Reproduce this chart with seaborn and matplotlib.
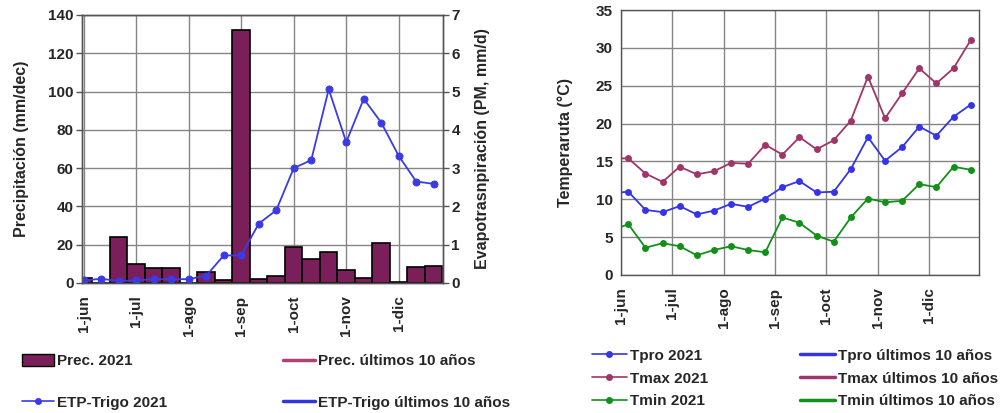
import numpy as np
import pandas as pd
import matplotlib
matplotlib.use("Agg")
import matplotlib.pyplot as plt
from matplotlib.patches import Patch
from matplotlib.lines import Line2D
import seaborn as sns

# dekads (10-day periods), jun-1 .. dic-3
dekads = ["jun-1", "jun-2", "jun-3", "jul-1", "jul-2", "jul-3", "ago-1", "ago-2", "ago-3",
          "sep-1", "sep-2", "sep-3", "oct-1", "oct-2", "oct-3", "nov-1", "nov-2", "nov-3",
          "dic-1", "dic-2", "dic-3"]
month_labels = ["1-jun", "1-jul", "1-ago", "1-sep", "1-oct", "1-nov", "1-dic"]

# precipitation 2021 (mm/dec) and ETP trigo 2021 (mm/d)
prec_2021 = [2.6, 0.0, 23.9, 10.1, 7.7, 7.7, 0.0, 5.7, 1.7, 132.4, 2.1, 3.8, 18.6, 12.7,
             16.2, 6.6, 2.6, 21.1, 0.5, 8.5, 8.9]
etp_2021 = [0.07, 0.11, 0.05, 0.07, 0.10, 0.10, 0.10, 0.19, 0.72, 0.72, 1.55, 1.90, 3.00,
            3.21, 5.06, 3.68, 4.81, 4.19, 3.32, 2.65, 2.59]

# temperatures 2021 (first value = last dekad of may, out of view)
temp_dekads = ["may-3"] + dekads
tpro_2021 = [10.8, 11.0, 8.6, 8.3, 9.1, 8.0, 8.5, 9.4, 9.0, 10.1, 11.6, 12.4, 10.9, 11.0,
             14.0, 18.2, 15.1, 16.9, 19.6, 18.4, 20.9, 22.5]
tmax_2021 = [15.4, 15.4, 13.4, 12.3, 14.3, 13.3, 13.7, 14.8, 14.7, 17.2, 15.9, 18.2, 16.6,
             17.8, 20.4, 26.2, 20.7, 24.0, 27.3, 25.3, 27.3, 31.0]
tmin_2021 = [5.9, 6.7, 3.6, 4.2, 3.8, 2.6, 3.3, 3.8, 3.3, 3.0, 7.6, 6.9, 5.2, 4.4, 7.6,
             10.1, 9.6, 9.8, 12.0, 11.6, 14.3, 13.9]

bar_color = "#7B1F5B"
etp_color = "#3B3BE6"
tpro_color = "#3535E8"
tmax_color = "#A0356A"
tmin_color = "#12901A"
grid_color = "#858585"
spine_color = "#555555"

TICK_FS = 11
LABEL_FS = 11.5
LEG_FS = 11

sns.set_theme(style="white")
plt.rcParams["font.family"] = ["Liberation Sans", "DejaVu Sans"]
plt.rcParams["font.weight"] = "bold"
plt.rcParams["axes.labelweight"] = "bold"

fig = plt.figure(figsize=(10.08, 4.13), dpi=100)

# ---------------- left panel: precipitation + ETP
ax = fig.add_axes([82 / 1008, 1 - 283 / 413, 361 / 1008, 268 / 413])
x_idx = np.arange(len(dekads))
sns.barplot(x=x_idx, y=prec_2021, native_scale=True, width=1.0, color=bar_color,
            saturation=1, edgecolor="black", linewidth=1.2, ax=ax, zorder=2)
ax.set_xlim(-0.1, 20.53)
ax.set_ylim(0, 140)
ax.set_yticks(np.arange(0, 141, 20))
ax.set_xticks(np.arange(0, 19, 3))
ax.set_xticklabels(month_labels, rotation=90)
ax.set_ylabel("Precipitación (mm/dec)", fontsize=LABEL_FS, labelpad=14)
ax.set_xlabel("")
ax.grid(True, color=grid_color, linewidth=1)
ax.set_axisbelow(True)

ax2 = ax.twinx()
sns.lineplot(x=x_idx, y=etp_2021, color=etp_color, marker="o", markersize=5,
             markeredgecolor=etp_color, linewidth=1.3, ax=ax2)
ax2.set_ylim(0, 7)
ax2.set_yticks(np.arange(0, 8, 1))
ax2.set_ylabel("Evapotrasnpiración (PM, mm/d)", fontsize=LABEL_FS, labelpad=11)
ax2.grid(False)

for a in (ax, ax2):
    a.tick_params(axis="both", labelsize=TICK_FS, length=4, width=1, color=spine_color,
                  direction="out", pad=2)
    a.tick_params(axis="x", pad=5)
    for s in a.spines.values():
        s.set_color(spine_color)
        s.set_linewidth(1)

left_handles = [
    Patch(facecolor=bar_color, edgecolor="black", linewidth=1),
    Line2D([], [], color=etp_color, marker="o", markersize=4, linewidth=1.2),
    Line2D([], [], color="#B04074", linewidth=2.5),
    Line2D([], [], color="#3535E0", linewidth=2.5),
]
left_labels = ["Prec. 2021", "ETP-Trigo 2021", "Prec. últimos 10 años", "ETP-Trigo últimos 10 años"]
fig.legend(left_handles, left_labels, loc="upper left", bbox_to_anchor=(8 / 1008, 1 - 340 / 413),
           ncol=2, frameon=False, fontsize=LEG_FS, handlelength=2.1, handleheight=0.9,
           handletextpad=0.2, columnspacing=7.6, labelspacing=1.75)

# ---------------- right panel: temperatures
axt = fig.add_axes([621 / 1008, 1 - 275 / 413, 358 / 1008, 265 / 413])
temp_df = pd.DataFrame({
    "pos": np.arange(len(temp_dekads)) - 1,
    "Tpro 2021": tpro_2021,
    "Tmax 2021": tmax_2021,
    "Tmin 2021": tmin_2021,
}).melt(id_vars="pos", var_name="serie", value_name="temp")
palette = {"Tpro 2021": tpro_color, "Tmax 2021": tmax_color, "Tmin 2021": tmin_color}
sns.lineplot(data=temp_df, x="pos", y="temp", hue="serie", palette=palette, marker="o",
             markersize=5, markeredgewidth=0, linewidth=1.3, legend=False, ax=axt)
axt.set_xlim(-0.43, 20.49)
axt.set_ylim(0, 35)
axt.set_yticks(np.arange(0, 36, 5))
axt.set_xticks(np.arange(0, 19, 3) - 0.43)
axt.set_xticklabels(month_labels, rotation=90)
axt.set_xlabel("")
axt.set_ylabel("Temperaruta (°C)", fontsize=LABEL_FS, labelpad=16)
axt.grid(True, color=grid_color, linewidth=1)
axt.set_axisbelow(True)
axt.tick_params(axis="both", labelsize=TICK_FS, length=4, width=1, color=spine_color,
                direction="out", pad=2)
axt.tick_params(axis="x", pad=5)
for s in axt.spines.values():
    s.set_color(spine_color)
    s.set_linewidth(1)

right_handles = [
    Line2D([], [], color=tpro_color, marker="o", markersize=4, linewidth=1.2),
    Line2D([], [], color=tmax_color, marker="o", markersize=4, linewidth=1.2),
    Line2D([], [], color=tmin_color, marker="o", markersize=4, linewidth=1.2),
    Line2D([], [], color="#3535E0", linewidth=2.5),
    Line2D([], [], color="#A0356A", linewidth=2.5),
    Line2D([], [], color="#12901A", linewidth=2.5),
]
right_labels = ["Tpro 2021", "Tmax 2021", "Tmin 2021",
                "Tpro últimos 10 años", "Tmax últimos 10 años", "Tmin últimos 10 años"]
fig.legend(right_handles, right_labels, loc="upper left", bbox_to_anchor=(578 / 1008, 1 - 335 / 413),
           ncol=2, frameon=False, fontsize=LEG_FS, handlelength=2.3,
           handletextpad=0.2, columnspacing=6.0, labelspacing=0.58)

fig.savefig("out.png", dpi=100)
